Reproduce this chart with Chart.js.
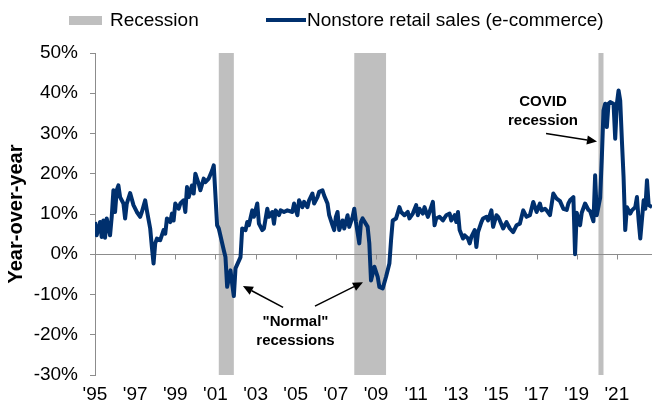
<!DOCTYPE html>
<html>
<head>
<meta charset="utf-8">
<script src="https://cdn.jsdelivr.net/npm/chart.js@4.4.0/dist/chart.umd.min.js"></script>
<style>
  html, body { margin: 0; padding: 0; background: #fff; }
  #wrap { position: relative; width: 652px; height: 409px; font-family: "Liberation Sans", Arial, sans-serif; }
  #legend { position: absolute; top: 9px; left: 0; width: 652px; height: 22px; font-size: 19px; color: #000; }
  .item { position: absolute; top: 0; line-height: 22px; white-space: nowrap; }
  .swatch { position: absolute; }
</style>
</head>
<body>
<div id="wrap">
  <canvas id="chart" width="652" height="409"></canvas>
  <div id="legend">
    <span class="swatch" style="left:69px; top:7px; width:33px; height:9px; background:#BFBFBF"></span>
    <span class="item" style="left:110px">Recession</span>
    <span class="swatch" style="left:266px; top:9px; width:40px; height:4px; background:#00306E"></span>
    <span class="item" style="left:307px">Nonstore retail sales (e-commerce)</span>
  </div>
</div>
<script>
// nonstore retail sales, % change year-over-year
const months = [
  '1995-01','1995-02','1995-04','1995-05','1995-06','1995-07','1995-08','1995-10','1995-11','1995-12',
  '1996-01','1996-02','1996-03','1996-04','1996-06','1996-07','1996-08','1996-10','1996-12',
  '1997-02','1997-04','1997-05','1997-07','1997-08','1997-10','1997-11','1997-12',
  '1998-01','1998-02','1998-04','1998-06','1998-07','1998-08','1998-10','1998-11','1998-12',
  '1999-01','1999-03','1999-04','1999-06','1999-07','1999-08','1999-09','1999-11','1999-12',
  '2000-01','2000-03','2000-04','2000-06','2000-07','2000-09','2000-11','2000-12',
  '2001-02','2001-03','2001-06','2001-07','2001-08','2001-10','2001-11','2001-12',
  '2002-01','2002-04','2002-05','2002-07','2002-08','2002-09','2002-11','2002-12',
  '2003-02','2003-03','2003-05','2003-06','2003-08','2003-09','2003-11','2003-12',
  '2004-01','2004-03','2004-04','2004-06','2004-08','2004-11','2004-12',
  '2005-02','2005-03','2005-05','2005-06','2005-08','2005-09','2005-11','2005-12',
  '2006-02','2006-03','2006-05','2006-06','2006-08','2006-09','2006-11','2006-12',
  '2007-01','2007-02','2007-03','2007-05','2007-06','2007-08','2007-09','2007-11','2007-12',
  '2008-01','2008-03','2008-04','2008-05','2008-08','2008-09','2008-10','2008-12',
  '2009-02','2009-03','2009-05','2009-07','2009-09','2009-10','2009-11',
  '2010-01','2010-03','2010-04','2010-06','2010-08','2010-09','2010-11',
  '2011-01','2011-02','2011-03','2011-05','2011-06','2011-08','2011-09','2011-11','2011-12',
  '2012-01','2012-03','2012-05','2012-07','2012-09','2012-10','2012-12',
  '2013-01','2013-02','2013-03','2013-05','2013-06','2013-08','2013-09','2013-10','2013-12',
  '2014-01','2014-02','2014-04','2014-05','2014-07','2014-08','2014-10','2014-11',
  '2015-01','2015-02','2015-03','2015-05','2015-07','2015-09','2015-11',
  '2016-01','2016-03','2016-05','2016-07','2016-09','2016-11',
  '2017-01','2017-03','2017-04','2017-06','2017-07','2017-09','2017-11',
  '2018-01','2018-03','2018-05','2018-07','2018-08','2018-09','2018-11','2018-12',
  '2019-01','2019-03','2019-04','2019-06','2019-08','2019-09','2019-11','2019-12',
  '2020-01','2020-03','2020-04','2020-05','2020-06','2020-07','2020-08','2020-09','2020-11','2020-12',
  '2021-01','2021-02','2021-03','2021-04','2021-05','2021-06','2021-07','2021-09','2021-10','2021-12',
  '2022-01','2022-02','2022-03','2022-05','2022-06','2022-07','2022-08','2022-10'
];
const yoy = [
  8.0, 4.7, 8.0, 4.3, 8.4, 4.1, 8.9, 4.7, 9.3, 15.9,
  10.5, 15.9, 17.1, 14.2, 12.6, 8.9, 12.6, 15.2, 12.2,
  10.5, 9.3, 10.5, 13.4, 10.9, 6.4, 1.8, -2.3,
  2.7, 3.9, 3.5, 6.0, 5.1, 8.9, 8.0, 10.1, 8.4,
  12.6, 11.3, 12.6, 13.4, 10.5, 16.7, 14.2, 17.1, 15.1,
  20.0, 17.5, 15.9, 18.8, 17.9, 18.8, 20.8, 22.1,
  7.2, 6.4, 1.0, -0.7, -8.1, -4.0, -7.3, -10.4,
  -3.5, -0.7, 6.4, 6.0, 8.0, 7.2, 10.9, 9.3,
  12.6, 7.6, 6.0, 6.4, 11.3, 9.3, 10.5, 7.6,
  10.9, 9.7, 10.9, 10.5, 10.9, 10.5, 12.6,
  9.7, 13.4, 11.7, 13.0, 11.7, 13.4, 15.1, 12.6,
  14.2, 15.5, 15.9, 14.6, 12.6, 9.7, 7.2, 6.0,
  9.3, 10.5, 6.0, 8.4, 6.4, 9.7, 6.8, 9.3, 11.3,
  8.0, 2.7, 8.0, 8.9, 6.8, 2.7, -6.5, -3.1,
  -5.6, -8.1, -8.5, -5.6, -2.3, 3.5, 8.4,
  8.9, 11.7, 10.5, 9.7, 10.5, 8.9, 10.1,
  12.2, 9.7, 11.3, 10.1, 11.7, 9.3, 10.5, 13.0, 7.2,
  8.9, 9.3, 8.4, 9.7, 10.1, 8.4, 9.7,
  8.0, 10.5, 6.0, 3.9, 4.7, 3.9, 2.7, 4.3, 6.0,
  1.8, 5.5, 8.0, 8.9, 9.3, 8.4, 10.9, 6.8,
  9.7, 9.3, 8.4, 6.4, 8.0, 6.4, 5.5,
  7.2, 7.6, 10.9, 9.3, 9.7, 13.0,
  10.5, 12.6, 10.9, 11.3, 10.9, 9.7, 15.1,
  13.8, 13.2, 11.3, 11.0, 12.6, 13.4, 14.2, 0.0,
  10.3, 7.2, 10.3, 12.6, 11.0, 10.7, 8.2, 19.6,
  9.7, 14.0, 24.0, 35.7, 37.4, 31.6, 37.4, 37.8, 37.4, 28.7,
  37.4, 40.7, 38.2, 28.3, 19.2, 6.0, 11.7, 10.1, 10.9, 11.7,
  14.2, 8.4, 3.9, 13.4, 11.3, 18.4, 12.2, 11.7
];

// recessions (first and last month)
const recessionStart = ['2001-03', '2007-12', '2020-02'];
const recessionEnd = ['2001-11', '2009-06', '2020-04'];

const tickYears = [1995, 1997, 1999, 2001, 2003, 2005, 2007, 2009, 2011, 2013, 2015, 2017, 2019, 2021];
const tickLabels = ["'95", "'97", "'99", "'01", "'03", "'05", "'07", "'09", "'11", "'13", "'15", "'17", "'19", "'21"];

const toYear = s => {
  const [y, m] = s.split('-').map(Number);
  return y + (m - 1) / 12;
};

const NAVY = '#00306E';
const AXIS = '#8C8C8C';

function drawArrow(ctx, x1, y1, x2, y2) {
  const a = Math.atan2(y2 - y1, x2 - x1);
  const len = 10, w = 4.5;
  const bx = x2 - len * Math.cos(a), by = y2 - len * Math.sin(a);
  ctx.beginPath();
  ctx.moveTo(x1, y1);
  ctx.lineTo(bx, by);
  ctx.stroke();
  ctx.beginPath();
  ctx.moveTo(x2, y2);
  ctx.lineTo(bx + w * Math.sin(a), by - w * Math.cos(a));
  ctx.lineTo(bx - w * Math.sin(a), by + w * Math.cos(a));
  ctx.closePath();
  ctx.fill();
}

const overlay = {
  id: 'overlay',
  beforeDatasetsDraw(chart) {
    const { ctx, chartArea, scales: { x, y } } = chart;
    ctx.save();
    // recession shading
    ctx.fillStyle = '#BFBFBF';
    recessionStart.forEach((s, i) => {
      const x0 = x.getPixelForValue(toYear(s));
      const x1 = x.getPixelForValue(toYear(recessionEnd[i]) + 1 / 12);
      ctx.fillRect(x0, chartArea.top, x1 - x0, chartArea.bottom - chartArea.top);
    });
    // zero line with the year tick marks hanging from it
    const y0 = Math.round(y.getPixelForValue(0)) + 0.5;
    ctx.strokeStyle = AXIS;
    ctx.lineWidth = 1;
    ctx.beginPath();
    ctx.moveTo(chartArea.left, y0);
    ctx.lineTo(chartArea.right, y0);
    x.ticks.forEach(t => {
      const px = Math.round(x.getPixelForValue(t.value)) + 0.5;
      ctx.moveTo(px, y0);
      ctx.lineTo(px, y0 + 5);
    });
    ctx.stroke();
    ctx.restore();
  },
  afterDatasetsDraw(chart) {
    const { ctx, scales: { x, y } } = chart;
    ctx.save();
    ctx.fillStyle = '#000';
    ctx.strokeStyle = '#000';
    ctx.lineWidth = 1.5;
    ctx.font = 'bold 15px "Liberation Sans", Arial, sans-serif';
    ctx.textAlign = 'center';
    ctx.textBaseline = 'middle';
    const notes = [
      { lines: ['COVID', 'recession'], at: [2017.32, 37.8] },
      { lines: ['"Normal"', 'recessions'], at: [2004.99, -16.75] }
    ];
    notes.forEach(n => {
      const px = x.getPixelForValue(n.at[0]);
      const py = y.getPixelForValue(n.at[1]);
      n.lines.forEach((t, i) => ctx.fillText(t, px, py + i * 19));
    });
    const arrows = [
      [2017.47, 30.0, 2020.01, 28.0],
      [2004.37, -13.2, 2002.37, -7.9],
      [2005.96, -12.9, 2008.35, -6.95]
    ];
    arrows.forEach(a => drawArrow(ctx,
      x.getPixelForValue(a[0]), y.getPixelForValue(a[1]),
      x.getPixelForValue(a[2]), y.getPixelForValue(a[3])));
    ctx.restore();
  }
};

Chart.defaults.font.family = '"Liberation Sans", Arial, sans-serif';
Chart.defaults.color = '#000';

new Chart(document.getElementById('chart'), {
  type: 'line',
  data: {
    datasets: [{
      label: 'Nonstore retail sales (e-commerce)',
      data: months.map((m, i) => ({ x: toYear(m), y: yoy[i] })),
      borderColor: NAVY,
      borderWidth: 4,
      borderJoinStyle: 'round',
      pointRadius: 0,
      tension: 0
    }]
  },
  options: {
    responsive: false,
    animation: false,
    devicePixelRatio: 1,
    layout: { padding: { top: 53, right: 0, bottom: 0, left: 0 } },
    plugins: {
      legend: { display: false },
      tooltip: { enabled: false }
    },
    scales: {
      x: {
        type: 'linear',
        min: 1995,
        max: toYear('2022-10'),
        afterBuildTicks: scale => { scale.ticks = tickYears.map(v => ({ value: v })); },
        afterFit: scale => { scale.height = 34; },
        grid: { display: false, drawTicks: false },
        border: { display: false },
        ticks: {
          padding: 8,
          font: { size: 19 },
          maxRotation: 0,
          autoSkip: false,
          callback: (v, i) => tickLabels[i]
        }
      },
      y: {
        min: -30,
        max: 50,
        afterFit: scale => { scale.width = 95; },
        grid: { drawOnChartArea: false, drawTicks: true, tickLength: 5, color: AXIS },
        border: { display: true, color: AXIS, width: 1 },
        ticks: {
          stepSize: 10,
          padding: 12,
          font: { size: 19 },
          callback: v => v + '%'
        },
        title: {
          display: true,
          text: 'Year-over-year',
          font: { size: 20, weight: 'bold' },
          padding: { top: 4, bottom: 0 }
        }
      }
    }
  },
  plugins: [overlay]
});
</script>
</body>
</html>
